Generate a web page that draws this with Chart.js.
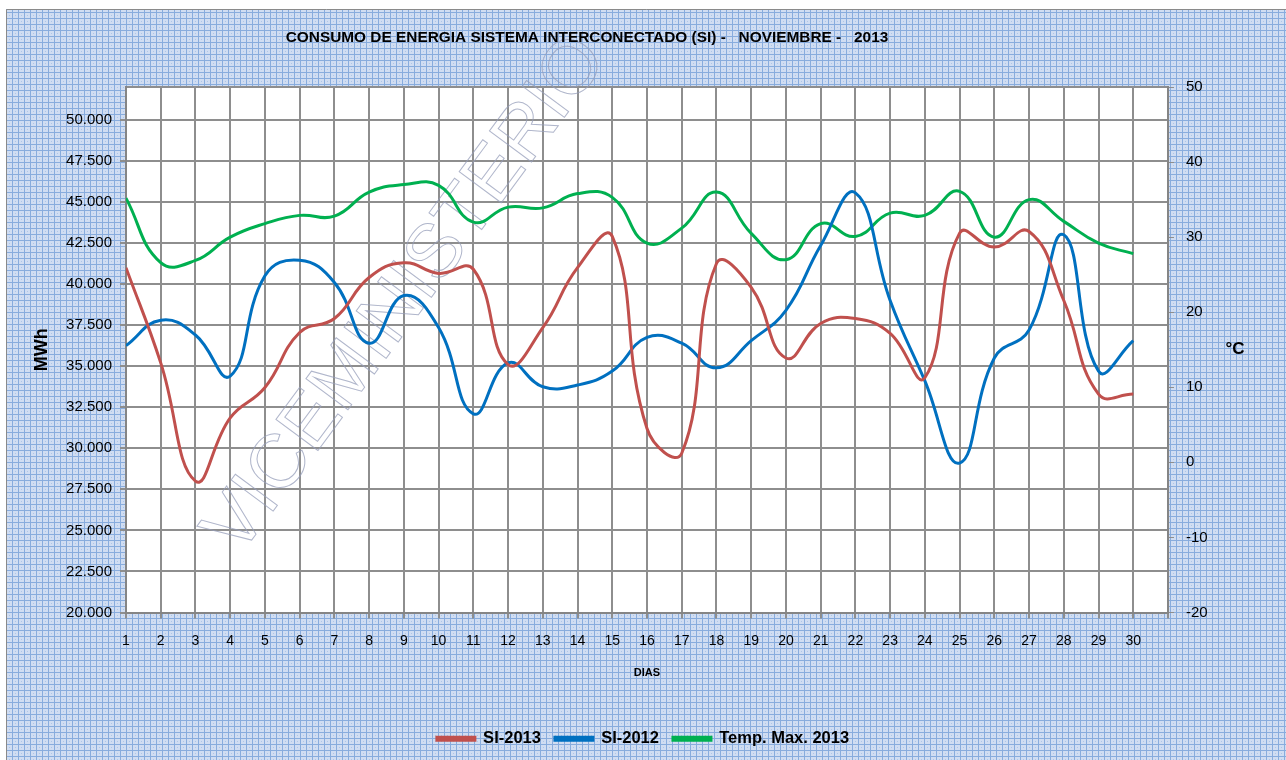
<!DOCTYPE html>
<html>
<head>
<meta charset="utf-8">
<script src="https://cdn.jsdelivr.net/npm/chart.js@4.4.0/dist/chart.umd.min.js"></script>
<style>
  html, body { margin: 0; padding: 0; background: #fff; }
</style>
</head>
<body>
<canvas id="lineChart" width="1286" height="760"></canvas>
<script>
// datos (noviembre 2013)
const days = [1, 2, 3, 4, 5, 6, 7, 8, 9, 10, 11, 12, 13, 14, 15, 16, 17, 18, 19, 20, 21, 22, 23, 24, 25, 26, 27, 28, 29, 30];
const si2013 = [41000, 35200, 28000, 31850, 33700, 37050, 37900, 40400, 41300, 40650, 40900, 35100, 37350, 41000, 42900, 31200, 29700, 41250, 39800, 35500, 37600, 37900, 37000, 34300, 43100, 42250, 43200, 39000, 33300, 33300];
const si2012 = [36250, 37800, 36900, 34400, 40500, 41450, 40100, 36400, 39300, 37350, 32100, 35200, 33750, 33850, 34700, 36750, 36400, 34900, 36550, 38400, 42350, 45550, 39000, 34100, 29100, 35500, 37200, 43000, 34700, 36550];
const tempMax2013 = [35.2, 26.6, 26.9, 30.0, 31.8, 32.9, 32.8, 36.0, 37.0, 36.9, 32.0, 34.0, 33.9, 35.8, 35.3, 29.2, 31.2, 36.0, 30.5, 27.0, 31.8, 30.1, 33.2, 32.9, 36.1, 30.0, 35.0, 32.1, 29.2, 27.8];

const mwhTicks = [20000, 22500, 25000, 27500, 30000, 32500, 35000, 37500, 40000, 42500, 45000, 47500, 50000, 52000];
const tempRange = [-20, 50];
const dayRange = [1, 31];

const gridColor = '#8e8e8e';
const axisFont = "'Liberation Sans', Arial, sans-serif";

function toXY(values) {
    return days.map((d, i) => ({ x: d, y: values[i] }));
}

function formatMwh(v) {
    return String(Math.round(v)).replace(/\B(?=(\d{3})+(?!\d))/g, '.');
}

// fondo cuadriculado azul
function makePattern(ctx) {
    const tile = document.createElement('canvas');
    tile.width = 6; tile.height = 6;
    const t = tile.getContext('2d');
    t.fillStyle = '#d0ddf2';
    t.fillRect(0, 0, 6, 6);
    t.fillStyle = '#88acdd';
    t.fillRect(0, 0, 6, 1);
    t.fillRect(0, 0, 1, 6);
    t.fillStyle = '#adc5e8';
    t.fillRect(3, 3, 1, 1);
    return ctx.createPattern(tile, 'repeat');
}

const backgroundPlugin = {
    id: 'background',
    beforeDraw(chart) {
        const ctx = chart.ctx;
        const a = chart.chartArea;
        ctx.save();
        ctx.fillStyle = '#fff';
        ctx.fillRect(0, 0, chart.width, chart.height);
        ctx.fillStyle = makePattern(ctx);
        ctx.fillRect(6, 9, chart.width - 6, chart.height - 9);
        ctx.strokeStyle = '#8a8a8a';
        ctx.lineWidth = 1;
        ctx.beginPath();
        ctx.moveTo(6.5, chart.height);
        ctx.lineTo(6.5, 9.5);
        ctx.lineTo(chart.width, 9.5);
        ctx.stroke();
        ctx.fillStyle = '#fff';
        ctx.fillRect(a.left, a.top, a.right - a.left, a.bottom - a.top);
        ctx.restore();
    },
    beforeDatasetsDraw(chart) {
        // marca de agua
        const ctx = chart.ctx;
        ctx.save();
        ctx.translate(222, 545);
        ctx.rotate(-53.5 * Math.PI / 180);
        ctx.font = "76px 'Liberation Sans', Arial, sans-serif";
        ctx.strokeStyle = 'rgba(150, 158, 185, 0.75)';
        ctx.lineWidth = 1;
        ctx.textBaseline = 'middle';
        ctx.strokeText('VICEMINISTERIO', 0, 0);
        ctx.restore();
    },
    afterDraw(chart) {
        const ctx = chart.ctx;
        const a = chart.chartArea;
        ctx.save();
        ctx.fillStyle = '#000';
        ctx.textAlign = 'center';
        ctx.textBaseline = 'middle';
        ctx.font = "bold 15.4px 'Liberation Sans', Arial, sans-serif";
        ctx.fillText('CONSUMO DE ENERGIA SISTEMA INTERCONECTADO (SI) -   NOVIEMBRE -   2013', 587, 38);
        ctx.font = "bold 17px " + axisFont;
        ctx.fillText('°C', a.right + 67, (a.top + a.bottom) / 2);
        ctx.restore();
    }
};

const ctx = document.getElementById('lineChart').getContext('2d');
const lineChart = new Chart(ctx, {
    type: 'line',
    data: {
        datasets: [{
            label: 'SI-2013',
            data: toXY(si2013),
            borderColor: '#c0504d',
            backgroundColor: '#c0504d',
            borderWidth: 3,
            pointRadius: 0,
            tension: 0.45,
            yAxisID: 'y'
        },
        {
            label: 'SI-2012',
            data: toXY(si2012),
            borderColor: '#0070c0',
            backgroundColor: '#0070c0',
            borderWidth: 3,
            pointRadius: 0,
            tension: 0.45,
            yAxisID: 'y'
        },
        {
            label: 'Temp. Max. 2013',
            data: toXY(tempMax2013),
            borderColor: '#00b050',
            backgroundColor: '#00b050',
            borderWidth: 3,
            pointRadius: 0,
            tension: 0.45,
            yAxisID: 'y1'
        }]
    },
    options: {
        responsive: false,
        animation: false,
        devicePixelRatio: 1,
        layout: {
            padding: { top: 87, left: 0, right: 0, bottom: 3 }
        },
        scales: {
            x: {
                type: 'linear',
                min: dayRange[0],
                max: dayRange[1],
                afterFit(scale) { scale.height = 104; },
                ticks: {
                    stepSize: 1,
                    autoSkip: false,
                    maxRotation: 0,
                    padding: 14,
                    color: '#000',
                    font: { family: axisFont, size: 14 },
                    callback: v => v <= 30 ? String(v) : ''
                },
                grid: { color: gridColor, lineWidth: 2, tickLength: 6, tickColor: gridColor },
                border: { color: '#858585', width: 2 },
                title: {
                    display: true,
                    text: 'DIAS',
                    color: '#000',
                    font: { family: axisFont, size: 11, weight: 'bold' },
                    padding: { top: 0, bottom: 37 }
                }
            },
            y: {
                position: 'left',
                min: mwhTicks[0],
                max: mwhTicks[mwhTicks.length - 1],
                afterFit(scale) { scale.width = 126; },
                afterBuildTicks(scale) {
                    scale.ticks = mwhTicks.map(v => ({ value: v }));
                },
                ticks: {
                    padding: 8,
                    color: '#000',
                    font: { family: axisFont, size: 15 },
                    callback: v => v === mwhTicks[mwhTicks.length - 1] ? '' : formatMwh(v)
                },
                grid: {
                    color: gridColor,
                    lineWidth: 2,
                    tickLength: 6,
                    tickColor: c => c.tick && c.tick.value === mwhTicks[mwhTicks.length - 1] ? 'rgba(0,0,0,0)' : gridColor
                },
                border: { color: '#858585', width: 2 },
                title: {
                    display: true,
                    text: 'MWh',
                    color: '#000',
                    font: { family: axisFont, size: 18, weight: 'bold' },
                    padding: { top: 31, bottom: 0 }
                }
            },
            y1: {
                position: 'right',
                min: tempRange[0],
                max: tempRange[1],
                afterFit(scale) { scale.width = 118; },
                ticks: {
                    stepSize: 10,
                    padding: 12,
                    color: '#000',
                    font: { family: axisFont, size: 15 }
                },
                grid: { drawOnChartArea: false, tickLength: 6, tickColor: gridColor },
                border: { color: '#858585', width: 2 }
            }
        },
        plugins: {
            legend: {
                position: 'bottom',
                labels: {
                    boxWidth: 38,
                    boxHeight: 3,
                    padding: 14,
                    color: '#000',
                    font: { family: axisFont, size: 16.5, weight: 'bold' }
                }
            },
            tooltip: { enabled: false }
        }
    },
    plugins: [backgroundPlugin]
});
</script>
</body>
</html>
